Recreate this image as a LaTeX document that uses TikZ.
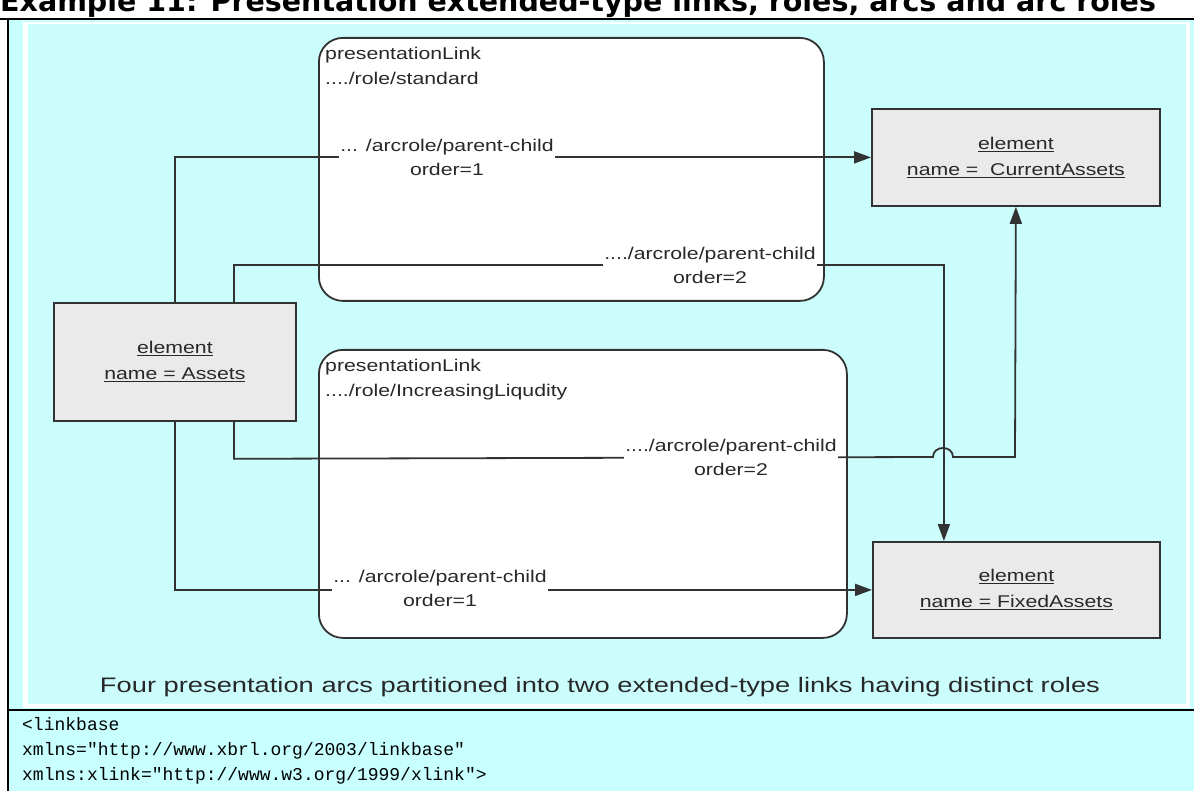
\documentclass[tikz,border=0pt]{standalone}
\usepackage{fontspec}
\usetikzlibrary{arrows.meta}
\newfontfamily\diagfont[FakeStretch=1.25]{Liberation Sans}
\newfontfamily\capfont[FakeStretch=1.3]{Liberation Sans}
\newfontfamily\titlefont{DejaVu Sans}
\setmonofont{Liberation Mono}

\definecolor{cellcyan}{RGB}{200,255,255}
\definecolor{imgcyan}{RGB}{204,253,253}
\definecolor{elemgray}{RGB}{234,234,234}
\definecolor{ink}{RGB}{50,50,50}
\definecolor{txt}{RGB}{40,40,40}

\tikzset{
  linkbox/.style={draw=ink, line width=1.8pt, fill=white, rounded corners=24pt,
    rectangle, inner sep=0pt, anchor=north west},
  elembox/.style={draw=ink, line width=1.8pt, fill=elemgray, rectangle, align=center,
    inner sep=0pt, anchor=north west, text=txt,
    font=\diagfont\fontsize{17}{26}\selectfont},
  boxtitle/.style={anchor=north west, align=left, inner sep=0pt, text=txt,
    font=\diagfont\fontsize{17}{25}\selectfont},
  arclabel/.style={fill=white, inner sep=1pt, align=center, text=txt,
    font=\diagfont\fontsize{17}{24}\selectfont},
  arc/.style={draw=ink, line width=1.8pt},
  arrowed/.style={arc, -{Triangle[length=17pt,width=12pt]}},
  codeline/.style={anchor=base west, inner sep=0pt,
    font=\ttfamily\fontsize{18}{22}\selectfont},
}

\begin{document}
\begin{tikzpicture}[x=1pt,y=-1pt]
  \path[use as bounding box] (0,0) rectangle (1194,791);

  % page and table cell backgrounds
  \fill[white] (0,0) rectangle (1194,791);
  \fill[cellcyan] (8,20) rectangle (1194,791);
  \fill[white] (23,22) rectangle (1190,708);
  \fill[imgcyan] (28,24) rectangle (1186,704);

  % table rules
  \draw[line width=2pt] (0,19) -- (1194,19);
  \draw[line width=2pt] (8,19) -- (8,791);
  \draw[line width=2pt] (8,710) -- (1194,710);

  % heading
  \node[anchor=base west, inner sep=0pt,
        font=\titlefont\bfseries\fontsize{28.5}{30}\selectfont] (heading) at (0,12)
    {Example 11: Presentation extended-type links, roles, arcs and arc roles};

  % extended-type links
  \node[linkbox, minimum width=505pt, minimum height=263pt] (stdlink) at (318,37) {};
  \node[linkbox, minimum width=528pt, minimum height=288pt] (liqlink) at (318,349) {};
  \node[boxtitle] (stdtitle) at ([shift={(7,10)}]stdlink.north west)
    {presentationLink\\..../role/standard};
  \node[boxtitle] (liqtitle) at ([shift={(7,10)}]liqlink.north west)
    {presentationLink\\..../role/IncreasingLiqudity};

  % elements
  \node[elembox, minimum width=242pt, minimum height=118pt] (assets) at (53,302)
    {\underline{element}\\\underline{name = Assets}};
  \node[elembox, minimum width=288pt, minimum height=97pt] (current) at (871,108)
    {\underline{element}\\\underline{name =\ \ CurrentAssets}};
  \node[elembox, minimum width=287pt, minimum height=96pt] (fixed) at (872,541)
    {\underline{element}\\\underline{name = FixedAssets}};

  % arcs
  \draw[arrowed] (assets.north) |- (current.west);
  \draw[arrowed] ([xshift=59pt]assets.north) -- ++(0,-37)
    -| ([xshift=-72.5pt]fixed.north);
  \draw[arrowed] ([xshift=59pt]assets.south) -- ++(0,37) -- (933,457)
    .. controls (933,445) and (953,445) .. (953,457)
    -- (1015,457) -- (current.south);
  \draw[arrowed] (assets.south) |- (fixed.west);

  % arc labels
  \node[arclabel] (lbl1) at (447,157) {... /arcrole/parent-child\\order=1};
  \node[arclabel] (lbl2) at (710,265) {..../arcrole/parent-child\\order=2};
  \node[arclabel] (lbl3) at (731,457) {..../arcrole/parent-child\\order=2};
  \node[arclabel] (lbl4) at (440,588) {... /arcrole/parent-child\\order=1};

  % caption
  \node[anchor=base, inner sep=0pt, text=txt,
        font=\capfont\fontsize{21}{25}\selectfont] (caption) at (600,692)
    {Four presentation arcs partitioned into two extended-type links having distinct roles};

  % code listing
  \node[codeline] (code1) at (22,730) {<linkbase};
  \node[codeline] (code2) at (22,755) {xmlns="http://www.xbrl.org/2003/linkbase"};
  \node[codeline] (code3) at (22,780) {xmlns:xlink="http://www.w3.org/1999/xlink">};
\end{tikzpicture}
\end{document}
